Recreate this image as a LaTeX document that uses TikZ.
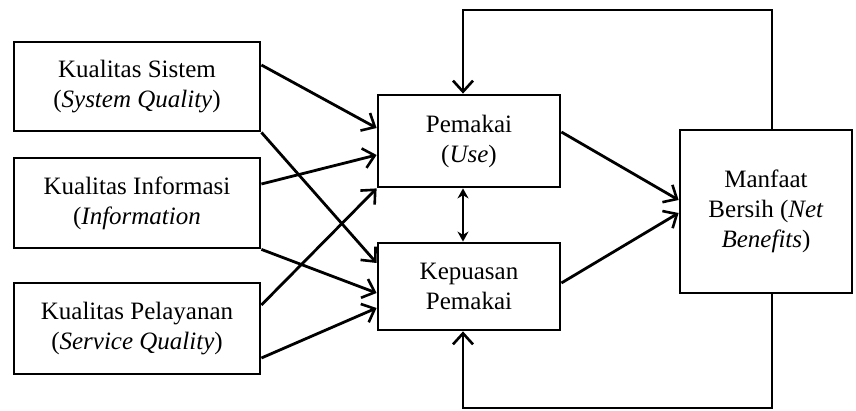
\documentclass[tikz,border=0pt]{standalone}
\usepackage{fontspec}
\setmainfont{Liberation Serif}
\usetikzlibrary{arrows.meta}

\begin{document}
  \begin{tikzpicture}[x=1pt,y=-1pt,line width=2.8pt,
      >={Straight Barb[length=11pt,width=20pt,line width=2.6pt]},
      box/.style={draw,align=center,inner sep=0pt,font=\fontsize{25}{30}\selectfont}]
    \useasboundingbox (0,0) rectangle (856,411);
    \node[box,minimum width=246,minimum height=89] (sys) at (137,86.5) {Kualitas Sistem\\(\textit{System Quality})};
    \node[box,minimum width=246,minimum height=90] (inf) at (137,203) {Kualitas Informasi\\(\textit{Information}};
    \node[box,minimum width=246,minimum height=91] (serv) at (137,328.5) {Kualitas Pelayanan\\(\textit{Service Quality})};
    \node[box,minimum width=182,minimum height=92] (use) at (469,141) {Pemakai\\(\textit{Use})};
    \node[box,minimum width=182,minimum height=87] (sat) at (469,286.5) {Kepuasan\\Pemakai};
    \node[box,minimum width=172,minimum height=163] (net) at (766,211.5) {Manfaat\\Bersih (\textit{Net}\\\textit{Benefits})};
    \coordinate (top) at (620,10);
    \coordinate (bot) at (620,408);
    % dari kiri ke tengah
    \draw[->] ([yshift=21.5]sys.east) -- ([yshift=13]use.west);
    \draw[->] (sys.south east) -- ([yshift=23.5]sat.west);
    \draw[->] ([yshift=19]inf.east) -- ([yshift=-14]use.west);
    \draw[->] (inf.south east) -- ([yshift=-6.5]sat.west);
    \draw[->] ([yshift=23.5]serv.east) -- (use.south west);
    \draw[->] ([yshift=-29.5]serv.east) -- ([yshift=-21.5]sat.west);
    % ke manfaat bersih
    \draw[->] ([yshift=9]use.east) -- ([yshift=11.5]net.west);
    \draw[->] ([yshift=3.5]sat.east) -- ([yshift=-1.5]net.west);
    \draw[{Stealth[length=10pt,width=11pt]}-{Stealth[length=10pt,width=11pt]}] ([xshift=-6]use.south) -- ([xshift=-6]sat.north);
    % umpan balik
    \draw[->] ([xshift=6]net.north) |- (top) -| ([xshift=-6]use.north);
    \draw[->] ([xshift=6]net.south) |- (bot) -| ([xshift=-6]sat.south);
  \end{tikzpicture}
\end{document}
